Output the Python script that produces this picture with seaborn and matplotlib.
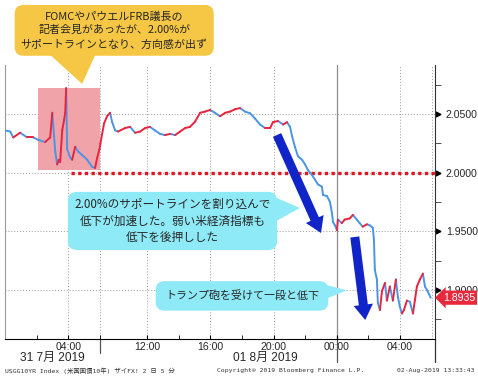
import pandas as pd
import matplotlib.pyplot as plt
import matplotlib.transforms as mtransforms
import seaborn as sns

# session hours (gap 06:00-09:00 removed) and 10Y yield
hours = [0.0, 0.33, 0.52, 0.96, 1.40, 1.78, 2.10, 2.54, 2.86, 2.99,
         3.18, 3.30, 3.40, 3.49, 3.62, 3.74, 3.81, 3.87, 3.93, 4.12,
         4.25, 4.44, 4.63, 4.88, 5.20, 5.51, 5.70, 5.83, 5.98, 6.04,
         6.27, 6.46, 6.65, 6.78, 6.97, 7.16, 7.60, 7.92, 8.23, 8.55,
         8.87, 9.18, 9.49, 9.81, 10.13, 10.45, 10.77, 11.08, 11.40, 11.71,
         12.03, 12.35, 12.66, 12.98, 13.29, 13.61, 13.93, 14.24, 14.56, 14.88,
         15.19, 15.51, 15.83, 16.14, 16.46, 16.78, 16.96, 17.28, 17.60, 17.85,
         18.04, 18.17, 18.35, 18.54, 18.80, 18.99, 19.18, 19.43, 19.62, 19.81,
         20.06, 20.13, 20.38, 20.57, 20.70, 20.76, 20.89, 21.01, 21.07, 21.32,
         21.50, 21.82, 22.02, 22.27, 22.45, 22.64, 22.91, 23.10, 23.28, 23.35,
         23.41, 23.54, 23.60, 23.73, 23.86, 24.05, 24.17, 24.36, 24.55, 24.74,
         24.87, 24.99, 25.12, 25.25, 25.44, 25.63, 25.82, 25.94, 26.07, 26.26,
         26.45, 26.58, 26.75, 26.94]
prices = [2.036, 2.035, 2.030, 2.034, 2.030, 2.030, 2.028, 2.026, 2.030, 2.051,
          2.018, 2.007, 2.011, 2.009, 2.036, 2.045, 2.051, 2.072, 2.020, 2.013,
          2.011, 2.022, 2.018, 2.015, 2.011, 2.005, 2.004, 2.0125, 2.020, 2.025,
          2.042, 2.048, 2.051, 2.043, 2.036, 2.035, 2.038, 2.039, 2.034, 2.035,
          2.038, 2.039, 2.036, 2.033, 2.032, 2.033, 2.032, 2.035, 2.038, 2.039,
          2.0435, 2.051, 2.052, 2.0534, 2.051, 2.048, 2.051, 2.052, 2.054, 2.055,
          2.052, 2.0506, 2.046, 2.041, 2.038, 2.038, 2.043, 2.044, 2.041, 2.043,
          2.039, 2.031, 2.022, 2.014, 2.011, 2.007, 2.002, 1.998, 1.994, 1.990,
          1.988, 1.981, 1.980, 1.975, 1.965, 1.958, 1.955, 1.951, 1.960, 1.957,
          1.960, 1.961, 1.964, 1.960, 1.957, 1.954, 1.956, 1.955, 1.953, 1.943,
          1.917, 1.909, 1.889, 1.883, 1.899, 1.906, 1.891, 1.903, 1.891, 1.909,
          1.894, 1.886, 1.880, 1.883, 1.891, 1.890, 1.880, 1.891, 1.903, 1.909,
          1.914, 1.903, 1.899, 1.8935]
last_price = 1.8935

xtick_pos = [4, 9, 13, 17, 21, 25]
xtick_labels = ['04:00', '12:00', '16:00', '20:00', '00:00', '04:00']
xminor_pos = [2, 6, 11, 15, 19, 23]
ytick_pos = [1.90, 1.95, 2.00, 2.05]
yminor_pos = [1.875, 1.925, 1.975, 2.025, 2.075]
session_breaks = [6, 21]
support_level = 2.00
fomc_zone = (2.1, 6.02, 2.0023, 2.072)

note_fomc = 'FOMCやパウエルFRB議長の\n記者会見があったが、2.00%が\nサポートラインとなり、方向感が出ず'
note_break = '2.00%のサポートラインを割り込んで\n低下が加速した。弱い米経済指標も\n低下を後押しした'
note_trump = 'トランプ砲を受けて一段と低下'

# each step becomes its own two-point segment, coloured up / down
rows = []
for i in range(len(hours) - 1):
    d = 'up' if prices[i + 1] >= prices[i] else 'down'
    rows.append((i, hours[i], prices[i], d))
    rows.append((i, hours[i + 1], prices[i + 1], d))
segs = pd.DataFrame(rows, columns=['seg', 'hour', 'price', 'dir'])

sns.set_style('white')
plt.rcParams['font.family'] = ['Liberation Sans', 'Noto Sans CJK JP']
jp = ['Noto Sans CJK JP', 'DejaVu Sans']

fig = plt.figure(figsize=(4.78, 3.77), dpi=100)
ax = fig.add_axes([0.0105, 0.1008, 0.899, 0.7268])
ax.set_xlim(0, 27.2)
ax.set_ylim(1.8583, 2.0917)

# grid
for y in ytick_pos:
    ax.axhline(y, color='#9a9a9a', lw=0.7, ls=(0, (1, 2)), zorder=0)
for x in [4, 6, 9, 13, 17, 25, 27.02]:
    ax.axvline(x, color='#9a9a9a', lw=0.7, ls=(0, (1, 2)), zorder=0)
ax.axvline(21, color='#8c8c8c', lw=0.9, zorder=0)

# FOMC zone
ax.fill_between([fomc_zone[0], fomc_zone[1]], fomc_zone[2], fomc_zone[3],
                color='#F0A4AA', lw=0, zorder=1)

# support line
ax.hlines(support_level, 4.2, 27.2, colors='#E01622', lw=2.4,
          linestyles=(0, (1, 1)), zorder=2)

sns.lineplot(data=segs, x='hour', y='price', hue='dir', units='seg',
             estimator=None, palette={'up': '#E8243F', 'down': '#4C94E4'},
             lw=1.4, legend=False, ax=ax, zorder=3)

# axes styling
ax.spines['top'].set_visible(False)
ax.spines['left'].set_color('#9a9a9a')
ax.spines['bottom'].set_color('black')
ax.spines['right'].set_color('#333333')
ax.set_xlabel('')
ax.set_ylabel('')

ax.set_xticks(xtick_pos)
ax.set_xticklabels(xtick_labels, fontsize=7.6)
ax.set_xticks(xminor_pos, minor=True)
ax.tick_params(axis='x', which='both', direction='in', length=3, pad=2,
               bottom=True, color='black')

ax.yaxis.tick_right()
ax.set_yticks(ytick_pos)
ax.set_yticklabels([f'{v:.4f}' for v in ytick_pos], fontsize=7.6)
ax.set_yticks(yminor_pos, minor=True)
ax.tick_params(axis='y', which='major', length=0, pad=8)
ax.tick_params(axis='y', which='minor', direction='out', length=4,
               right=True, color='#333333')

trans_y = mtransforms.blended_transform_factory(ax.transAxes, ax.transData)
trans_x = mtransforms.blended_transform_factory(ax.transData, ax.transAxes)
ax.plot([1.008] * len(ytick_pos), ytick_pos, ls='none', marker='>', ms=3.5,
        color='black', transform=trans_y, clip_on=False)
for x in session_breaks:
    ax.plot([x, x], [0, -0.05 if x == 6 else -0.085], color='#555555', lw=0.9,
            transform=trans_x, clip_on=False)
ax.plot([1, 1], [0, -0.085], color='#333333', lw=0.9, transform=ax.transAxes,
        clip_on=False)

ax.text(2.99, -0.07, '31 7月 2019', transform=trans_x, ha='center',
        va='center', fontsize=8.6)
ax.text(16.46, -0.07, '01 8月 2019', transform=trans_x, ha='center',
        va='center', fontsize=8.6)

# last price tag
ax.annotate(f'{last_price:.4f}', xy=(1.0, last_price), xycoords=trans_y,
            xytext=(8, 0), textcoords='offset pixels', ha='left', va='center',
            color='white', fontsize=7.6, annotation_clip=False, zorder=8,
            bbox=dict(boxstyle='larrow,pad=0.2', fc='#E8283C', ec='none'))

# callouts: speech-bubble tails, then boxes on top
yellow = '#F6C744'
cyan = '#8EEAF6'
ax.fill([2.86, 5.71, 4.88], [2.1003, 2.1003, 2.0756], color=yellow, lw=0,
        clip_on=False, zorder=5)
ax.fill([16.47, 16.47, 18.67], [1.9827, 1.9537, 1.9699], color=cyan, lw=0,
        zorder=5)
ax.fill([19.82, 19.82, 21.64], [1.9060, 1.8898, 1.8998], color=cyan, lw=0,
        zorder=5)

ax.text(6.91, 2.1212, note_fomc, ha='center', va='center', fontsize=7.9,
        family=jp, linespacing=1.45, clip_on=False, zorder=6,
        bbox=dict(boxstyle='round,pad=0.55,rounding_size=0.8', fc=yellow,
                  ec='none'))
ax.text(10.6, 1.9588, note_break, ha='center', va='center', fontsize=8.4,
        family=jp, linespacing=1.32, zorder=6,
        bbox=dict(boxstyle='round,pad=0.55,rounding_size=0.8', fc=cyan,
                  ec='none'))
ax.text(15.0, 1.8950, note_trump, ha='center', va='center', fontsize=7.9,
        family=jp, zorder=6,
        bbox=dict(boxstyle='round,pad=0.85,rounding_size=0.8', fc=cyan,
                  ec='none'))

# trend arrows
arrow_style = 'simple,head_length=1.1,head_width=1.4,tail_width=0.65'
ax.annotate('', xy=(20.0, 1.9486), xytext=(17.22, 2.0321),
            arrowprops=dict(arrowstyle=arrow_style, fc='#1024C8', ec='none',
                            mutation_scale=10, shrinkA=0, shrinkB=0), zorder=7)
ax.annotate('', xy=(22.8, 1.8745), xytext=(22.14, 1.9452),
            arrowprops=dict(arrowstyle=arrow_style, fc='#1024C8', ec='none',
                            mutation_scale=10, shrinkA=0, shrinkB=0), zorder=7)

# footer
mono = ['DejaVu Sans Mono', 'Noto Sans CJK JP']
fig.text(0.01, 0.016, 'USGG10YR Index (米国国債10年) ザイFX! 2 日 5 分',
         family=mono, fontsize=4.6, color='#333333', va='center')
fig.text(0.608, 0.016, 'Copyright® 2019 Bloomberg Finance L.P.', family=mono,
         fontsize=4.6, color='#333333', va='center', ha='center')
fig.text(0.992, 0.016, '02-Aug-2019 13:33:43', family=mono, fontsize=4.6,
         color='#333333', va='center', ha='right')

fig.savefig('out.png', dpi=100)
